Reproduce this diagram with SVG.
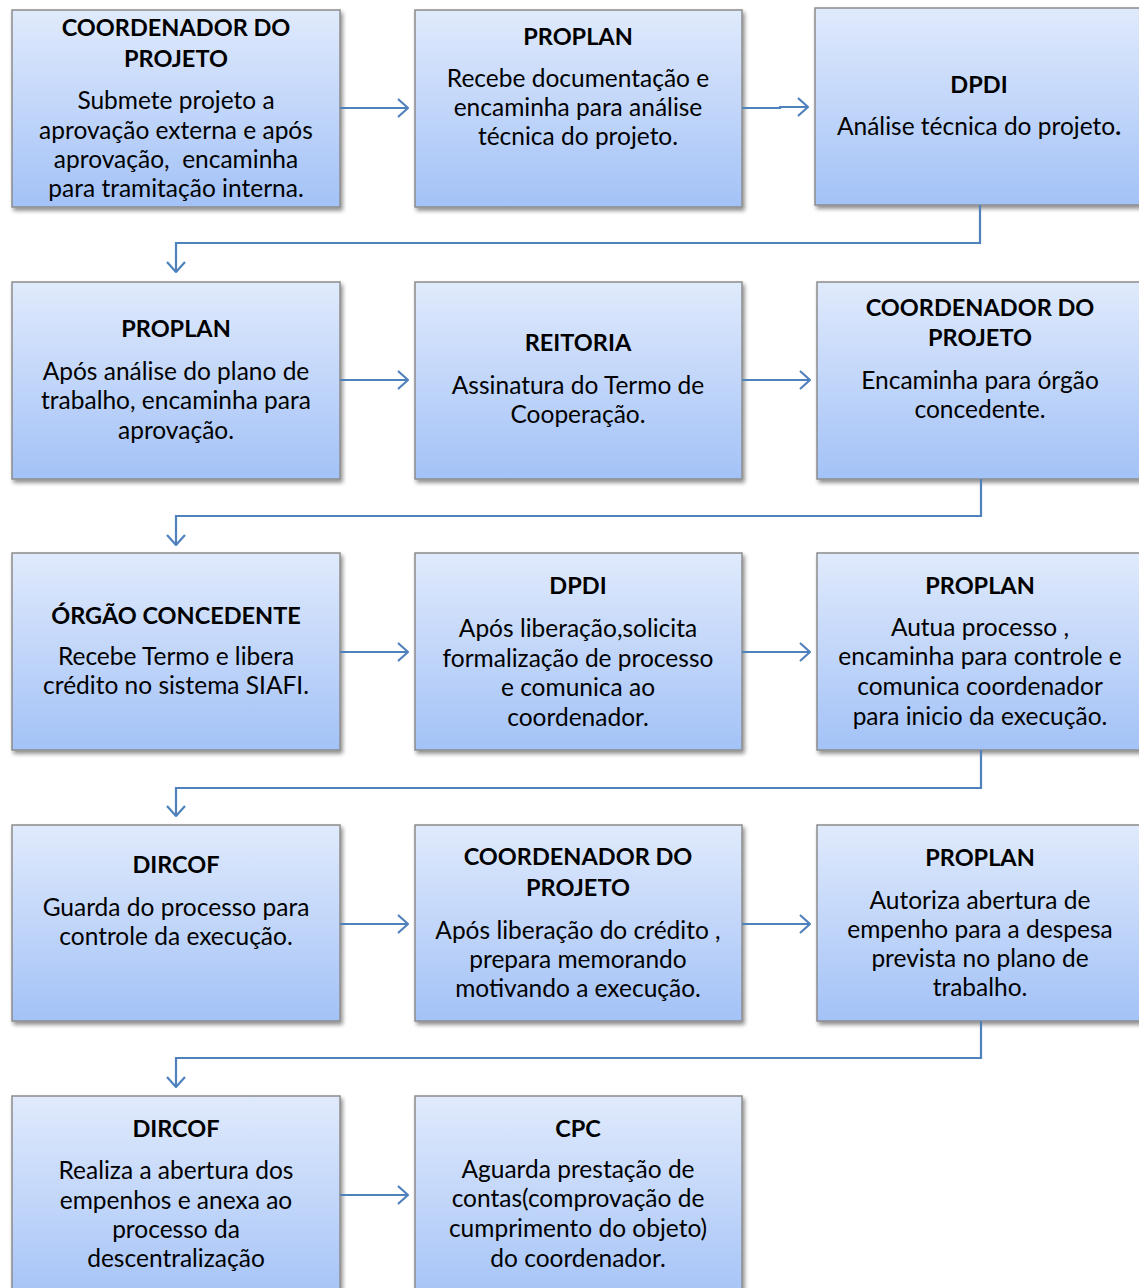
<svg xmlns="http://www.w3.org/2000/svg" width="1139" height="1288" viewBox="0 0 1139 1288">
<defs>
<linearGradient id="g" x1="0" y1="0" x2="0" y2="1">
<stop offset="0" stop-color="#e0eafc"/>
<stop offset="1" stop-color="#a3c2f7"/>
</linearGradient>
<filter id="sh" x="-5%" y="-5%" width="115%" height="115%">
<feGaussianBlur in="SourceAlpha" stdDeviation="2"/>
<feOffset dx="2" dy="3" result="b"/>
<feComponentTransfer><feFuncA type="linear" slope="0.45"/></feComponentTransfer>
<feMerge><feMergeNode/><feMergeNode in="SourceGraphic"/></feMerge>
</filter>
<marker id="ah" viewBox="0 0 12 20" refX="11" refY="10" markerWidth="12" markerHeight="20" markerUnits="userSpaceOnUse" orient="auto">
<path d="M1,1 L11,10 L1,19" fill="none" stroke="#4f81bd" stroke-width="2.2"/>
</marker>
</defs>
<style>
.box{fill:url(#g);stroke:#8c8c8c;stroke-width:1.5;filter:url(#sh)}
.t{font-family:Lato,"Open Sans",sans-serif;font-weight:bold;font-size:23.5px;fill:#000;text-anchor:middle}
.b{font-family:Lato,"Open Sans",sans-serif;font-size:24.5px;fill:#000;text-anchor:middle}
.c{fill:none;stroke:#4f81bd;stroke-width:2.2;marker-end:url(#ah)}
</style>
<g id="n1"><rect class="box" x="12" y="10" width="328" height="197"/>
<text class="t" x="176" y="36">COORDENADOR DO</text><text class="t" x="176" y="67">PROJETO</text>
<text class="b" x="176" y="109">Submete projeto a</text><text class="b" x="176" y="139">aprovação externa e após</text><text class="b" x="176" y="168" xml:space="preserve">aprovação,  encaminha</text><text class="b" x="176" y="197">para tramitação interna.</text></g>
<g id="n2"><rect class="box" x="415" y="10" width="327" height="197"/>
<text class="t" x="578" y="45">PROPLAN</text>
<text class="b" x="578" y="87">Recebe documentação e</text><text class="b" x="578" y="116">encaminha para análise</text><text class="b" x="578" y="145">técnica do projeto.</text></g>
<g id="n3"><rect class="box" x="815" y="8" width="340" height="197"/>
<text class="t" x="979" y="93">DPDI</text>
<text class="b" x="979" y="135">Análise técnica do projeto<tspan font-weight="bold">.</tspan></text></g>
<g id="n4"><rect class="box" x="12" y="282" width="328" height="197"/>
<text class="t" x="176" y="337">PROPLAN</text>
<text class="b" x="176" y="380">Após análise do plano de</text><text class="b" x="176" y="409">trabalho, encaminha para</text><text class="b" x="176" y="439">aprovação.</text></g>
<g id="n5"><rect class="box" x="415" y="282" width="327" height="197"/>
<text class="t" x="578" y="351">REITORIA</text>
<text class="b" x="578" y="394">Assinatura do Termo de</text><text class="b" x="578" y="423">Cooperação.</text></g>
<g id="n6"><rect class="box" x="817" y="282" width="340" height="197"/>
<text class="t" x="980" y="316">COORDENADOR DO</text><text class="t" x="980" y="346">PROJETO</text>
<text class="b" x="980" y="389">Encaminha para órgão</text><text class="b" x="980" y="418">concedente.</text></g>
<g id="n7"><rect class="box" x="12" y="553" width="328" height="197"/>
<text class="t" x="176" y="624">ÓRGÃO CONCEDENTE</text>
<text class="b" x="176" y="665">Recebe Termo e libera</text><text class="b" x="176" y="694">crédito no sistema SIAFI.</text></g>
<g id="n8"><rect class="box" x="415" y="553" width="327" height="197"/>
<text class="t" x="578" y="594">DPDI</text>
<text class="b" x="578" y="637">Após liberação,solicita</text><text class="b" x="578" y="667">formalização de processo</text><text class="b" x="578" y="696">e comunica ao</text><text class="b" x="578" y="726">coordenador.</text></g>
<g id="n9"><rect class="box" x="817" y="553" width="340" height="197"/>
<text class="t" x="980" y="594">PROPLAN</text>
<text class="b" x="980" y="636">Autua processo ,</text><text class="b" x="980" y="665">encaminha para controle e</text><text class="b" x="980" y="695">comunica coordenador</text><text class="b" x="980" y="725">para inicio da execução.</text></g>
<g id="n10"><rect class="box" x="12" y="825" width="328" height="196"/>
<text class="t" x="176" y="873">DIRCOF</text>
<text class="b" x="176" y="916">Guarda do processo para</text><text class="b" x="176" y="945">controle da execução.</text></g>
<g id="n11"><rect class="box" x="415" y="825" width="327" height="196"/>
<text class="t" x="578" y="865">COORDENADOR DO</text><text class="t" x="578" y="896">PROJETO</text>
<text class="b" x="578" y="939">Após liberação do crédito ,</text><text class="b" x="578" y="968">prepara memorando</text><text class="b" x="578" y="997">motivando a execução.</text></g>
<g id="n12"><rect class="box" x="817" y="825" width="340" height="196"/>
<text class="t" x="980" y="866">PROPLAN</text>
<text class="b" x="980" y="909">Autoriza abertura de</text><text class="b" x="980" y="938">empenho para a despesa</text><text class="b" x="980" y="967">prevista no plano de</text><text class="b" x="980" y="996">trabalho.</text></g>
<g id="n13"><rect class="box" x="12" y="1096" width="328" height="210"/>
<text class="t" x="176" y="1137">DIRCOF</text>
<text class="b" x="176" y="1179">Realiza a abertura dos</text><text class="b" x="176" y="1209">empenhos e anexa ao</text><text class="b" x="176" y="1238">processo da</text><text class="b" x="176" y="1267">descentralização</text></g>
<g id="n14"><rect class="box" x="415" y="1096" width="327" height="210"/>
<text class="t" x="578" y="1137">CPC</text>
<text class="b" x="578" y="1178">Aguarda prestação de</text><text class="b" x="578" y="1207">contas(comprovação de</text><text class="b" x="578" y="1237">cumprimento do objeto)</text><text class="b" x="578" y="1267">do coordenador.</text></g>
<g id="connectors">
<path class="c" d="M340,108 H408"/>
<path class="c" d="M742,108 H780 V107 H808"/>
<path class="c" d="M980,205 V243 H176 V272"/>
<path class="c" d="M340,380 H408"/>
<path class="c" d="M742,380 H810"/>
<path class="c" d="M981,479 V516 H176 V545"/>
<path class="c" d="M340,652 H408"/>
<path class="c" d="M742,652 H810"/>
<path class="c" d="M981,750 V788 H176 V816"/>
<path class="c" d="M340,924 H408"/>
<path class="c" d="M742,924 H810"/>
<path class="c" d="M981,1021 V1058 H176 V1087"/>
<path class="c" d="M340,1195 H408"/>
</g>
</svg>
